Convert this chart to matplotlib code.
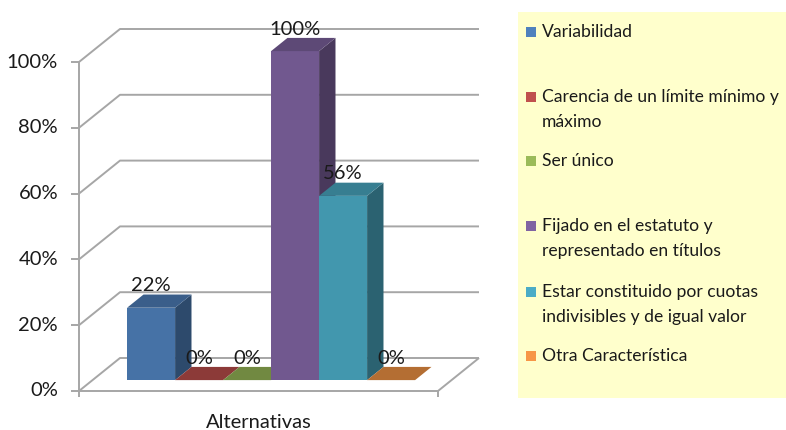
import numpy as np
import matplotlib
matplotlib.use("Agg")
import matplotlib.pyplot as plt
from matplotlib.patches import Polygon, Rectangle

# --- data -------------------------------------------------------------
categories = [
    "Variabilidad",
    "Carencia de un límite mínimo y\nmáximo",
    "Ser único",
    "Fijado en el estatuto y\nrepresentado en títulos",
    "Estar constituido por cuotas\nindivisibles y de igual valor",
    "Otra Característica",
]
values = [22, 0, 0, 100, 56, 0]
value_labels = ["22%", "0%", "0%", "100%", "56%", "0%"]
y_ticks = [0, 20, 40, 60, 80, 100]
y_tick_labels = ["0%", "20%", "40%", "60%", "80%", "100%"]
x_label = "Alternativas"
base_colors = ["#4F81BD", "#C0504D", "#9BBB59", "#8064A2", "#4BACC6", "#F79646"]

# --- figure geometry --------------------------------------------------
W, H = 786, 430
DPI = 100
FONT = "Lato"
FS_CHART = 14.5
FS_LEGEND = 12.6
TXT = "#1a1a1a"

fig = plt.figure(figsize=(W / DPI, H / DPI), dpi=DPI)
fig.patch.set_facecolor("white")

px_per_unit_x = 48.0        # one category slot
px_per_pct = 3.29           # vertical scale
x0_px, y0_px = 79, 391      # front-left corner of the floor
right_px, top_px = 480, 20

ax = fig.add_axes([x0_px / W, (H - y0_px) / H,
                   (right_px - x0_px) / W, (y0_px - top_px) / H])
ax.set_xlim(0, (right_px - x0_px) / px_per_unit_x)
ax.set_ylim(0, (y0_px - top_px) / px_per_pct)
ax.axis("off")

# oblique depth direction of the walls
DX = 41 / px_per_unit_x
DY = 33 / px_per_pct
floor_w = (438 - x0_px) / px_per_unit_x
grid_kw = dict(color="#A6A6A6", lw=1.4, clip_on=False, zorder=1,
               solid_capstyle="butt")

# gridlines on the side and back walls
for t in y_ticks:
    ax.plot([0, DX, floor_w + DX], [t, t + DY, t + DY], **grid_kw)
# floor front and right edges, vertical axis
ax.plot([0, floor_w, floor_w + DX], [0, 0, DY], **grid_kw)
ax.plot([0, 0], [0, y_ticks[-1]], **grid_kw)
# tick marks
tick_len_x = 8 / px_per_unit_x
tick_len_y = 6 / px_per_pct
for t in y_ticks:
    ax.plot([-tick_len_x, 0], [t, t], **grid_kw)
ax.plot([0, 0], [0, -tick_len_y], **grid_kw)
ax.plot([floor_w, floor_w], [0, -tick_len_y], **grid_kw)

# tick labels
for t, lab in zip(y_ticks, y_tick_labels):
    ax.text(-21 / px_per_unit_x, t, lab, ha="right", va="center",
            fontsize=FS_CHART, family=FONT, color=TXT, clip_on=False)

ax.text(floor_w / 2, -31 / px_per_pct, x_label, ha="center", va="center",
        fontsize=FS_CHART, family=FONT, color=TXT, clip_on=False)

# --- 3D-looking bars --------------------------------------------------
def shade(hexcol, f):
    rgb = np.array(matplotlib.colors.to_rgb(hexcol))
    return tuple(np.clip(rgb * f, 0, 1))

front_d = 0.33   # depth fraction of the bar front face
back_d = 0.73    # depth fraction of the bar back face
bar_w = 1.0
first_left = 0.72

fdx, fdy = front_d * DX, front_d * DY
bdx, bdy = (back_d - front_d) * DX, (back_d - front_d) * DY

for i, (v, col, lab) in enumerate(zip(values, base_colors, value_labels)):
    xl = first_left + i * bar_w + fdx
    xr = xl + bar_w
    yb = fdy
    yt = fdy + v
    z = 3 + i
    c_front = shade(col, 0.88)
    c_top = shade(col, 0.73)
    c_side = shade(col, 0.57)
    if v > 0:
        ax.add_patch(Polygon([(xr, yb), (xr + bdx, yb + bdy),
                              (xr + bdx, yt + bdy), (xr, yt)],
                             closed=True, fc=c_side, ec="none", zorder=z))
        ax.add_patch(Rectangle((xl, yb), bar_w, v, fc=c_front, ec="none",
                               zorder=z + 0.1))
    ax.add_patch(Polygon([(xl, yt), (xr, yt), (xr + bdx, yt + bdy),
                          (xl + bdx, yt + bdy)],
                         closed=True, fc=c_top, ec="none", zorder=z + 0.2))
    ax.text((xl + xr) / 2, v + 10, lab, ha="center", va="center",
            fontsize=FS_CHART, family=FONT, color=TXT, zorder=20,
            clip_on=False)

# --- legend panel -----------------------------------------------------
fig.patches.append(Rectangle((518 / W, 1 - 398 / H), (W - 518) / W,
                             (398 - 12) / H, transform=fig.transFigure,
                             fc="#FFFFCC", ec="none", zorder=0))
legend_first_line_y = [32, 97, 161, 226, 292, 356]
line_gap = 25
for lab, col, yy in zip(categories, base_colors, legend_first_line_y):
    fig.patches.append(Rectangle((526 / W, 1 - (yy + 5) / H), 10 / W, 10 / H,
                                 transform=fig.transFigure, fc=col,
                                 ec="none", zorder=2))
    for k, line in enumerate(lab.split("\n")):
        fig.text(542 / W, 1 - (yy + k * line_gap) / H, line, ha="left",
                 va="center", fontsize=FS_LEGEND, family=FONT, color=TXT)

fig.savefig("out.png", dpi=DPI, facecolor="white")
